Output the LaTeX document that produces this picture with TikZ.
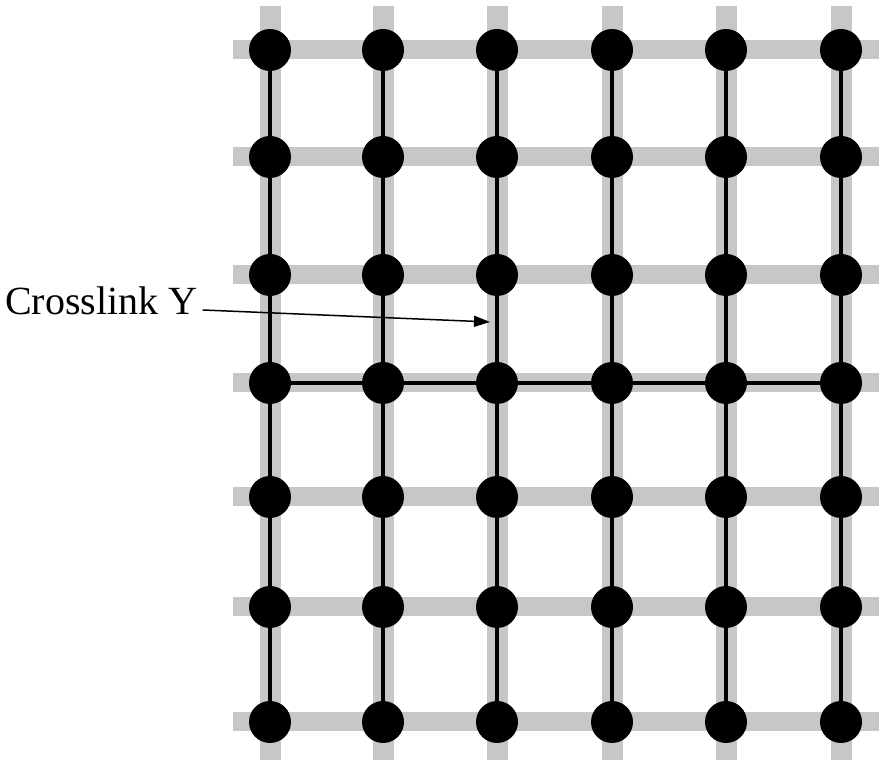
\documentclass[tikz,border=0pt]{standalone}
\usepackage{fontspec}
\setmainfont{Liberation Serif}
\usetikzlibrary{arrows.meta,positioning}
\tikzset{
  site/.style={circle,fill=black,minimum size=42pt,inner sep=0pt},
  band/.style={draw=black!22,line width=19pt},
  link/.style={draw=black,line width=4pt},
}
\begin{document}
\begin{tikzpicture}[x=1pt,y=1pt,>={Triangle[length=16pt,width=11pt]}]
\useasboundingbox (0,0) rectangle (879,762);
% gray bands behind the lattice
\foreach \y in {712,605,487,379,265,155,40}
  \draw[band] (233,\y) -- (879,\y);
\foreach \x in {270,383,497,612,726,841}
  \draw[band,line width=21pt] (\x,2) -- (\x,756);
% lattice sites
\foreach \x [count=\i] in {270,383,497,612,726,841}
  \foreach \y [count=\j] in {712,605,487,379,265,155,40}
    \node[site] (s\i\j) at (\x,\y) {};
% vertical chains
\foreach \i in {1,...,6}
  \foreach \j/\k in {1/2,2/3,3/4,4/5,5/6,6/7}
    \draw[link] (s\i\j) -- (s\i\k);
% the one horizontal chain
\foreach \i/\k in {1/2,2/3,3/4,4/5,5/6}
  \draw[link] (s\i4) -- (s\k4);
% label
\node[font=\fontsize{40}{48}\selectfont,inner sep=0pt,anchor=base west] (lbl) at (5,447) {Crosslink Y};
\coordinate (ytip) at (490,440);
\draw[->,line width=1.5pt] ([shift={(5pt,5pt)}]lbl.base east) -- (ytip);
\end{tikzpicture}
\end{document}
